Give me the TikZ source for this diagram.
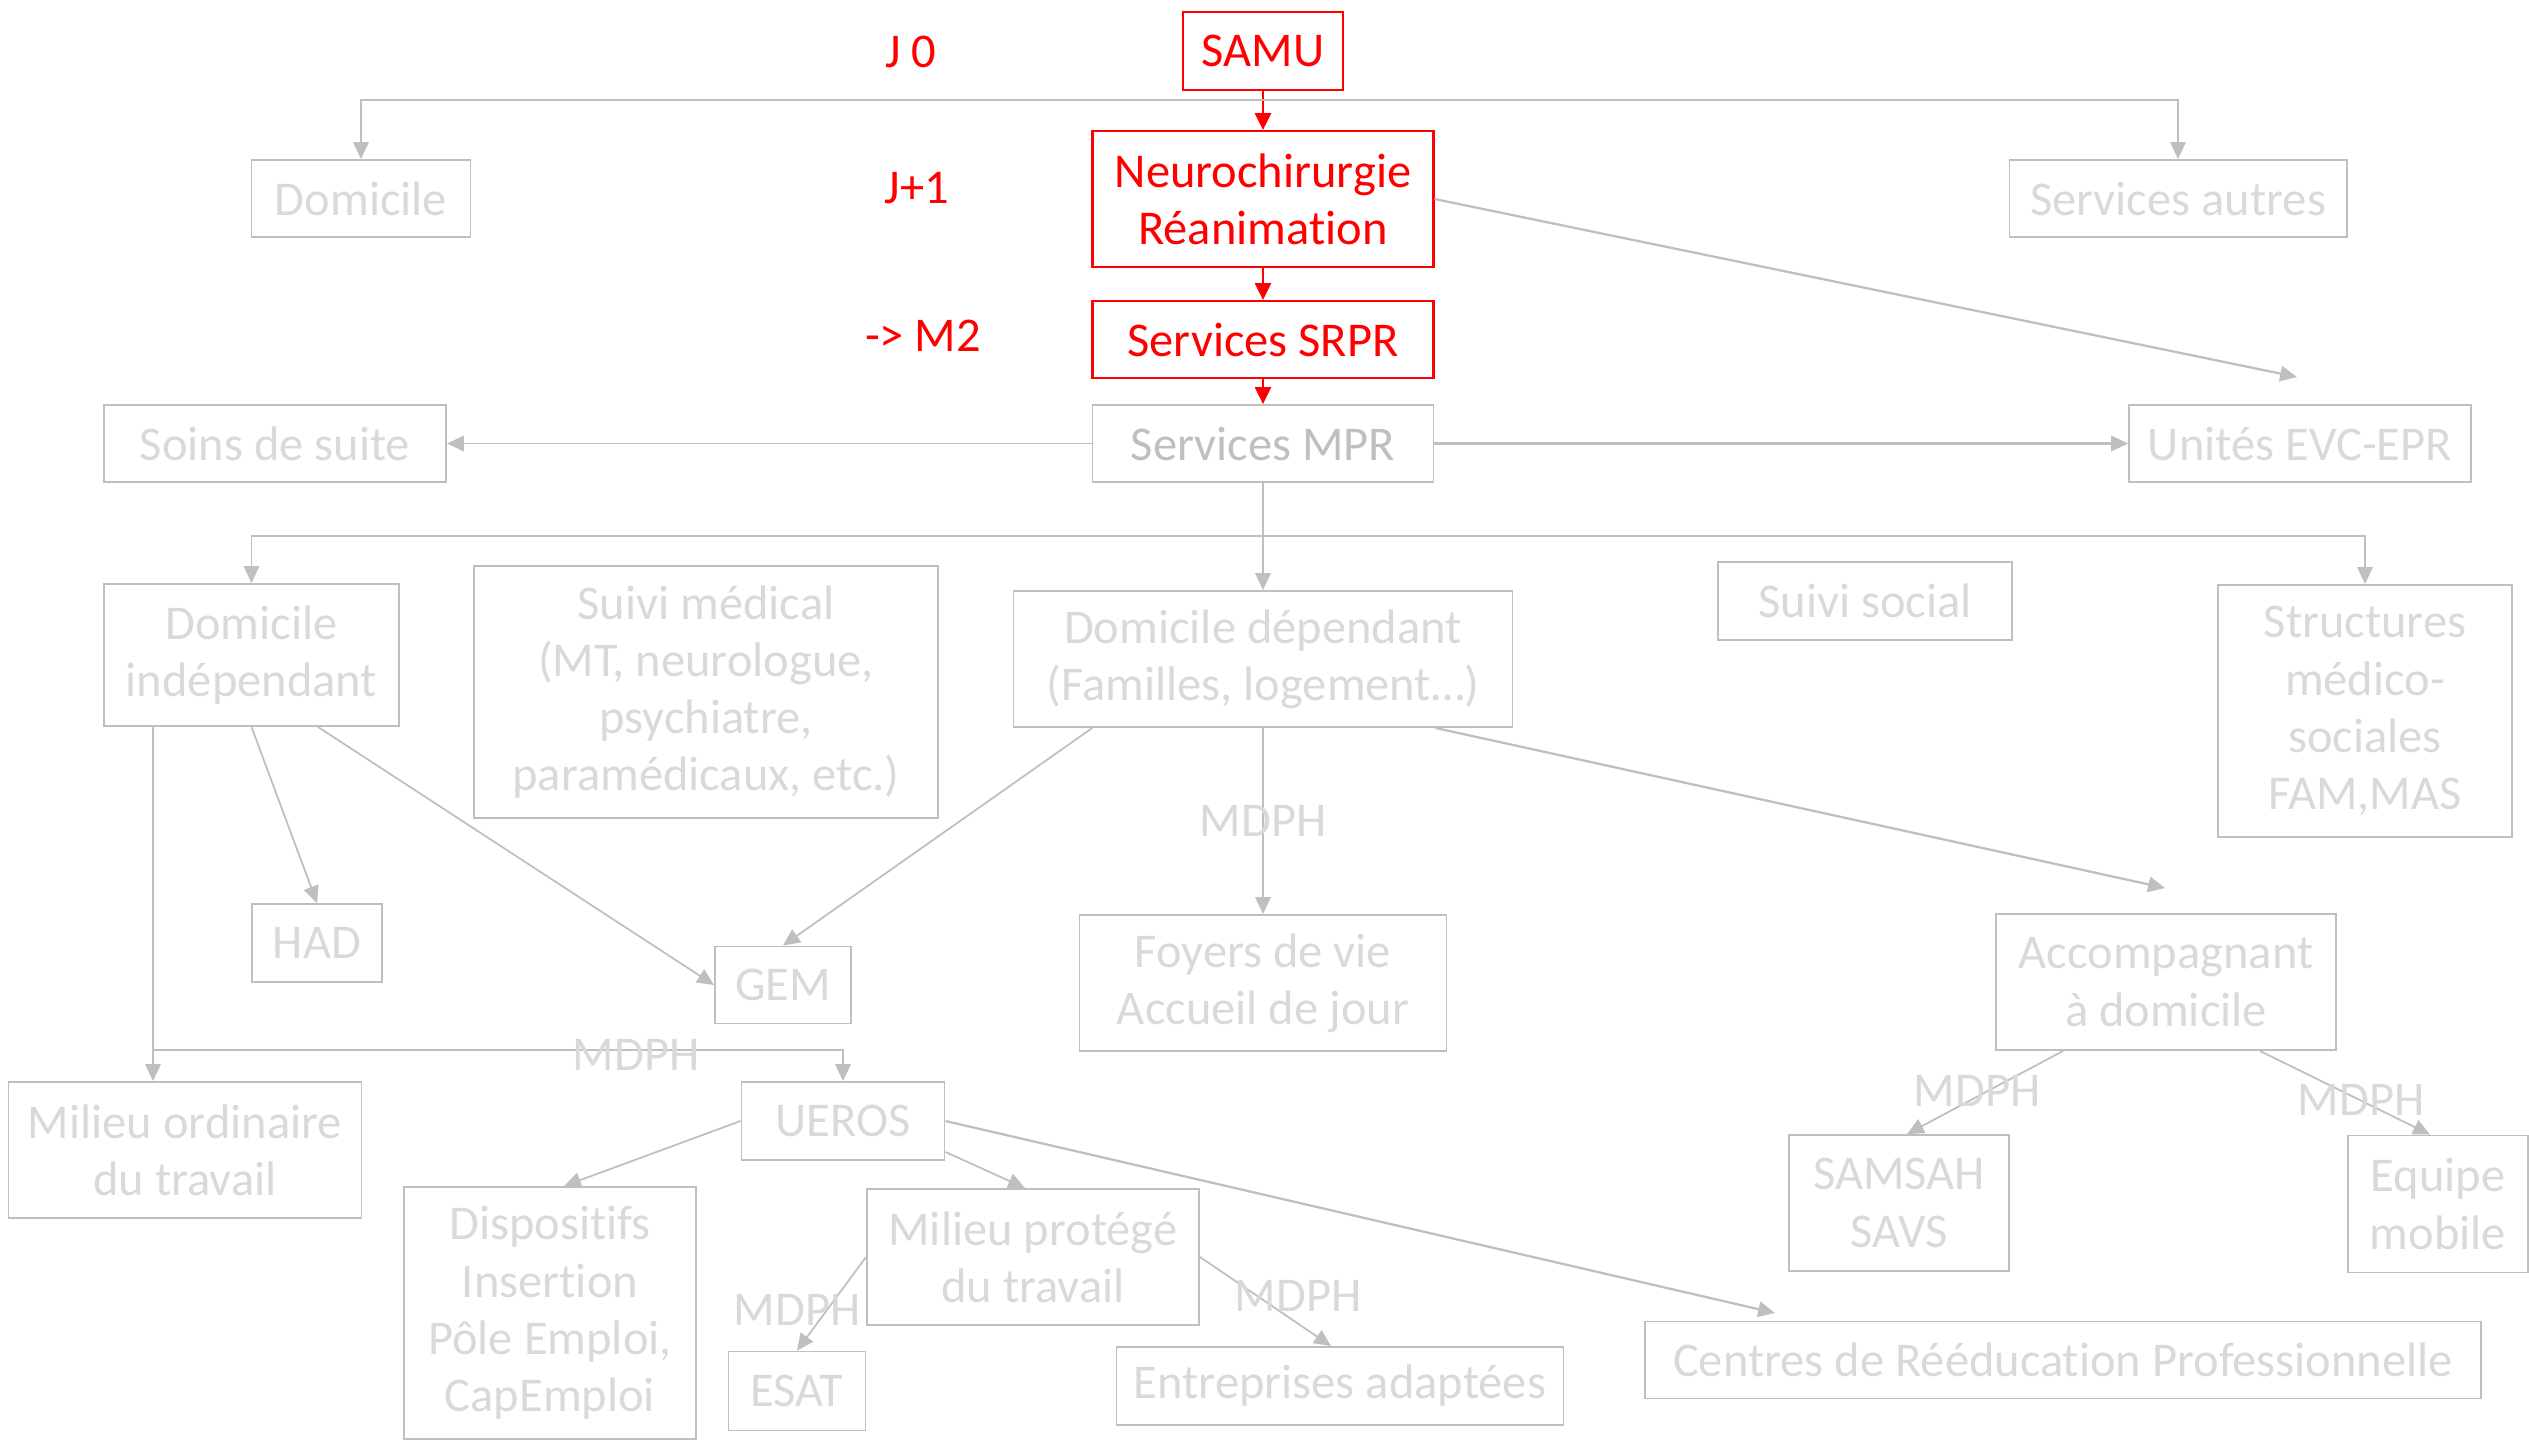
\documentclass[tikz,border=0pt]{standalone}
\usepackage{fontspec}
\setmainfont{Carlito}[Ligatures=NoCommon]
\usetikzlibrary{arrows.meta}
\definecolor{lgray}{HTML}{D9D9D9}
\definecolor{mgray}{HTML}{BFBFBF}
\begin{document}
\begin{tikzpicture}[font=\fontsize{13.8}{16.3}\selectfont,
    box/.style={draw=mgray,line width=0.55pt,text=lgray,align=center,inner sep=0pt},
    redbox/.style={draw=red,line width=0.6pt,text=red,align=center,inner sep=0pt},
    lbl/.style={text=lgray,inner sep=0pt},
    garrow/.style={draw=mgray,line width=0.5pt,-{Triangle[length=4.8pt,width=4.4pt]}},
    rarrow/.style={draw=red,line width=0.6pt,-{Triangle[length=4.8pt,width=4.6pt]}}]
    \useasboundingbox (0,0) rectangle (25.29,-14.40);

    \node[redbox,minimum width=1.60cm,minimum height=0.78cm] (samu) at (12.63,-0.51) {SAMU};
    \node[redbox,minimum width=3.41cm,minimum height=1.36cm] (neuro) at (12.63,-1.99) {Neurochirurgie\\Réanimation};
    \node[redbox,minimum width=3.41cm,minimum height=0.77cm] (srpr) at (12.63,-3.395) {Services SRPR};
    \node[box,text=mgray,minimum width=3.41cm,minimum height=0.77cm] (mpr) at (12.63,-4.435) {Services MPR};
    \node[box,minimum width=3.37cm,minimum height=0.77cm] (autres) at (21.78,-1.985) {Services autres};
    \node[box,minimum width=3.42cm,minimum height=0.77cm] (evc) at (23.00,-4.435) {Unités EVC-EPR};
    \node[box,minimum width=2.19cm,minimum height=0.77cm] (dom) at (3.61,-1.985) {Domicile};
    \node[box,minimum width=3.42cm,minimum height=0.77cm] (soins) at (2.75,-4.435) {Soins de suite};
    \node[text=red] (j0) at (9.11,-0.52) {J 0};
    \node[text=red] (j1) at (9.17,-1.88) {J+1};
    \node[text=red] (m2) at (9.23,-3.36) {-> M2};

    \node[box,minimum width=2.95cm,minimum height=1.42cm] (domind) at (2.515,-6.55) {Domicile\\indépendant};
    \node[box,minimum width=4.64cm,minimum height=2.52cm] (suivimed) at (7.06,-6.92) {Suivi médical\\(MT, neurologue,\\psychiatre,\\paramédicaux, etc.)};
    \node[box,minimum width=4.99cm,minimum height=1.36cm] (domdep) at (12.63,-6.59) {Domicile dépendant\\(Familles, logement…)};
    \node[box,minimum width=2.94cm,minimum height=0.78cm] (suivisoc) at (18.65,-6.01) {Suivi social};
    \node[box,minimum width=2.94cm,minimum height=2.52cm] (struct) at (23.65,-7.11) {Structures\\médico-\\sociales\\FAM,MAS};
    \node[box,minimum width=3.67cm,minimum height=1.36cm] (foyers) at (12.63,-9.83) {Foyers de vie\\Accueil de jour};
    \node[box,minimum width=3.40cm,minimum height=1.36cm] (accomp) at (21.66,-9.82) {Accompagnant\\à domicile};
    \node[box,minimum width=1.36cm,minimum height=0.77cm] (gem) at (7.83,-9.85) {GEM};
    \node[box,minimum width=1.30cm,minimum height=0.78cm] (had) at (3.17,-9.43) {HAD};
    \node[box,minimum width=3.53cm,minimum height=1.36cm] (milord) at (1.85,-11.50) {Milieu ordinaire\\du travail};
    \node[box,minimum width=2.03cm,minimum height=0.78cm] (ueros) at (8.43,-11.21) {UEROS};
    \node[box,minimum width=2.92cm,minimum height=2.52cm] (dispo) at (5.50,-13.13) {Dispositifs\\Insertion\\Pôle Emploi,\\CapEmploi};
    \node[box,minimum width=3.32cm,minimum height=1.36cm] (milprot) at (10.33,-12.57) {Milieu protégé\\du travail};
    \node[box,minimum width=1.37cm,minimum height=0.79cm] (esat) at (7.97,-13.91) {ESAT};
    \node[box,minimum width=4.47cm,minimum height=0.78cm] (entr) at (13.40,-13.86) {Entreprises adaptées};
    \node[box,minimum width=8.36cm,minimum height=0.77cm] (centres) at (20.63,-13.60) {Centres de Rééducation Professionnelle};
    \node[box,minimum width=2.20cm,minimum height=1.36cm] (samsah) at (18.99,-12.03) {SAMSAH\\SAVS};
    \node[box,minimum width=1.80cm,minimum height=1.37cm] (equipe) at (24.38,-12.04) {Equipe\\mobile};

    \coordinate (topbus) at (12.63,-1.00);
    \coordinate (midbus) at (12.63,-5.36);
    \coordinate (lowbus) at (1.53,-10.50);
    \coordinate (evcin) at (22.97,-3.77);
    \coordinate (accin) at (21.65,-8.88);
    \coordinate (centin) at (17.75,-13.13);

    \draw[rarrow] (samu) -- (neuro);
    \draw[rarrow] (neuro) -- (srpr);
    \draw[rarrow] (srpr) -- (mpr);
    \draw[garrow] (topbus) -| (dom.north);
    \draw[garrow] (topbus) -| (autres.north);
    \draw[garrow,line width=0.65pt] (neuro.east) -- (evcin);
    \draw[garrow] (mpr) -- (soins);
    \draw[garrow,line width=0.65pt] (mpr) -- (evc);
    \draw[garrow] (mpr) -- (domdep);
    \draw[garrow] (midbus) -| (domind.north);
    \draw[garrow] (midbus) -| (struct.north);
    \draw[garrow] (domdep) -- (foyers) node[lbl,midway] (mdph2) {MDPH};
    \draw[garrow] (domdep.202) -- (gem.north);
    \draw[garrow,line width=0.65pt] ([xshift=1.725cm]domdep.south) -- (accin);
    \draw[garrow] (domind.south) -- (had.north);
    \draw[garrow] ([xshift=0.665cm]domind.south) -- (gem.west);
    \draw[garrow] ([xshift=-0.985cm]domind.south) -- ([xshift=-0.32cm]milord.north);
    \draw[garrow] (lowbus) -| (ueros.north);
    \draw[garrow] (ueros.west) -- ([xshift=0.14cm]dispo.north);
    \draw[garrow] ([yshift=0.09cm]ueros.south east) -- ([xshift=-0.08cm]milprot.north);
    \draw[garrow,line width=0.65pt] (ueros.east) -- (centin);
    \draw[garrow] (milprot.west) -- (esat.north);
    \draw[garrow] (milprot.east) -- ([xshift=-0.09cm]entr.north);
    \draw[garrow] ([xshift=-1.03cm]accomp.south) -- ([xshift=0.08cm]samsah.north);
    \draw[garrow] ([xshift=0.94cm]accomp.south) -- ([xshift=-0.08cm]equipe.north);

    \node[lbl] (mdph1) at (6.36,-10.55) {MDPH};
    \node[lbl] (mdph3) at (7.97,-13.10) {MDPH};
    \node[lbl] (mdph4) at (12.98,-12.96) {MDPH};
    \node[lbl] (mdph5) at (19.77,-10.91) {MDPH};
    \node[lbl] (mdph6) at (23.61,-11.00) {MDPH};
\end{tikzpicture}
\end{document}
